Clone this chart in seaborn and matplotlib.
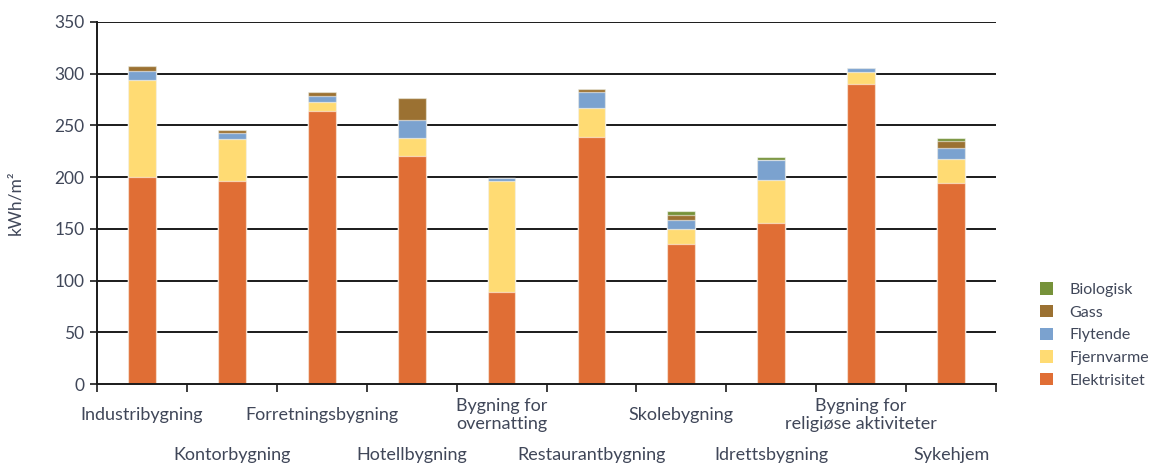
import matplotlib
matplotlib.use("Agg")
import matplotlib.pyplot as plt
import matplotlib.patches as mpatches
import seaborn as sns
import numpy as np
import pandas as pd

categories = ["Industribygning", "Kontorbygning", "Forretningsbygning", "Hotellbygning",
              "Bygning for\novernatting", "Restaurantbygning", "Skolebygning",
              "Idrettsbygning", "Bygning for\nreligiøse aktiviteter", "Sykehjem"]
elektrisitet = [200, 196, 264, 220, 89, 239, 135, 156, 290, 194]
fjernvarme   = [94, 40.5, 9, 17.5, 107, 28, 15, 41.5, 12, 24]
flytende     = [9, 6, 5, 18, 3, 15, 9, 19, 3.5, 10.5]
gass         = [4.5, 3, 4, 21, 0, 3, 4, 0, 0, 6]
biologisk    = [0, 0, 0, 0, 0, 0, 4.5, 3, 0, 3]
series_names = ["Elektrisitet", "Fjernvarme", "Flytende", "Gass", "Biologisk"]
yticks = [0, 50, 100, 150, 200, 250, 300, 350]

colors = {"Elektrisitet": "#E06E35", "Fjernvarme": "#FFDB73", "Flytende": "#7BA2CF",
          "Gass": "#9B7132", "Biologisk": "#76923A"}
text_color = "#404759"

sns.set_theme(style="white")
plt.rcParams["font.family"] = ["Lato", "DejaVu Sans"]

series = [elektrisitet, fjernvarme, flytende, gass, biologisk]
cum = np.cumsum(np.array(series, dtype=float), axis=0)
ids = [str(i) for i in range(len(categories))]

fig = plt.figure(figsize=(11.54, 4.65), dpi=100)
ax = fig.add_axes([97/1154, 1-384/465, (996-97)/1154, (384-22)/465])

for y in yticks[1:]:
    ax.axhline(y, color="#1a1a1a", lw=1.4, zorder=0)

for k in range(len(series_names)-1, -1, -1):
    name = series_names[k]
    df = pd.DataFrame({"cat": ids, "val": cum[k]})
    sns.barplot(data=df, x="cat", y="val", order=ids, color=colors[name], saturation=1,
                width=0.31, ax=ax, edgecolor=(1, 1, 1, 0.55), linewidth=0.9, zorder=2)

ax.set_xlim(-0.5, len(categories)-0.5)
ax.set_ylim(0, 350)
ax.set_yticks(yticks)
ax.set_yticklabels([str(t) for t in yticks], color=text_color, fontsize=12.5)
ax.set_xticks(np.arange(len(categories)+1)-0.5)
ax.set_xticklabels([])
ax.tick_params(axis="both", which="major", length=5, width=1.2, color="#1a1a1a", direction="out")
ax.tick_params(axis="y", pad=4)
ax.tick_params(axis="x", bottom=True, length=6)
ax.tick_params(axis="y", left=True)
ax.set_xlabel("")
ax.set_ylabel("kWh/m²", color=text_color, fontsize=12.5, labelpad=22)
for s in ["top", "right"]:
    ax.spines[s].set_visible(False)
for s in ["left", "bottom"]:
    ax.spines[s].set_color("#1a1a1a")
    ax.spines[s].set_linewidth(1.4)

trans = ax.get_xaxis_transform()
for i, lab in enumerate(categories):
    yy = -0.0856 if i % 2 == 0 else -0.196
    ax.text(i, yy, lab, transform=trans, ha="center", va="center", fontsize=13,
            color=text_color, linespacing=1.15, clip_on=False)

handles = [mpatches.Patch(facecolor=colors[n], edgecolor="none", label=n)
           for n in reversed(series_names)]
fig.legend(handles=handles, loc="upper left", bbox_to_anchor=(1026/1154, 1-268/465),
           frameon=False, fontsize=11.5, labelcolor=text_color, handlelength=0.8,
           handleheight=0.8, handletextpad=1.0, labelspacing=0.5)

fig.savefig("out.png", dpi=100)
